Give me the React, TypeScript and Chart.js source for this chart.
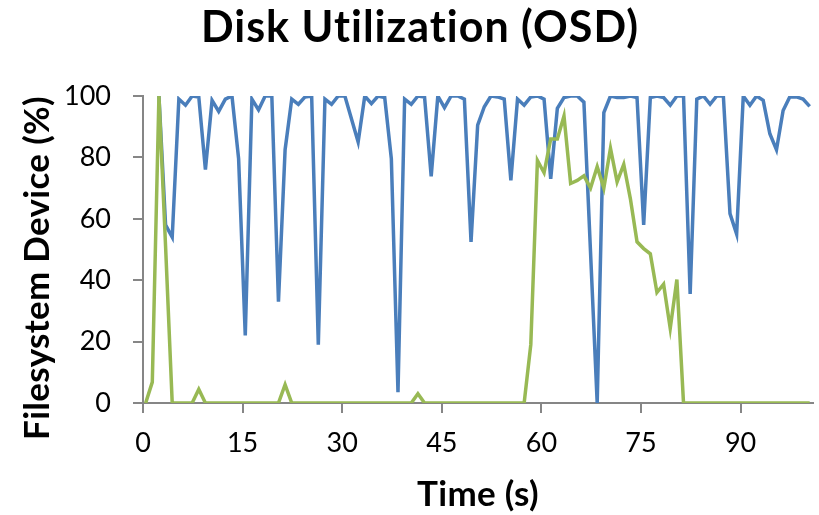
import React, { useEffect, useRef } from "react";
import { Chart, registerables } from "chart.js";

Chart.register(...registerables);

const times = [
  0.4, 1.4, 2.4, 3.4, 4.4, 5.4, 6.4, 7.4, 8.4, 9.4,
  10.4, 11.4, 12.4, 13.4, 14.4, 15.4, 16.4, 17.4, 18.4, 19.4,
  20.4, 21.4, 22.4, 23.4, 24.4, 25.4, 26.4, 27.4, 28.4, 29.4,
  30.4, 31.4, 32.4, 33.4, 34.4, 35.4, 36.4, 37.4, 38.4, 39.4,
  40.4, 41.4, 42.4, 43.4, 44.4, 45.4, 46.4, 47.4, 48.4, 49.4,
  50.4, 51.4, 52.4, 53.4, 54.4, 55.4, 56.4, 57.4, 58.4, 59.4,
  60.4, 61.4, 62.4, 63.4, 64.4, 65.4, 66.4, 67.4, 68.4, 69.4,
  70.4, 71.4, 72.4, 73.4, 74.4, 75.4, 76.4, 77.4, 78.4, 79.4,
  80.4, 81.4, 82.4, 83.4, 84.4, 85.4, 86.4, 87.4, 88.4, 89.4,
  90.4, 91.4, 92.4, 93.4, 94.4, 95.4, 96.4, 97.4, 98.4, 99.4,
  100.4,
];

const diskA: (number | null)[] = [
  null, null, 100, 58, 54, 99, 97, 100, 99.7, 76,
  98.6, 95, 99, 100, 79.5, 22, 99, 95.5, 100, 100,
  33, 82.5, 99, 97.3, 99.7, 100, 19, 99, 97.3, 100,
  100, 92.5, 85, 100, 97.5, 100, 99.5, 79.5, 3.5, 99,
  97.3, 100, 99.7, 73.8, 100, 96.2, 100, 100, 99, 52.5,
  90.5, 96.5, 100, 99.7, 99, 72.5, 99, 97, 99.7, 100,
  99, 73, 96, 99.5, 100, 100, 98, 49, 0, 94.6,
  100, 99.5, 99.5, 100, 99.5, 58, 99.5, 100, 99.5, 97,
  100, 100, 35.5, 99, 100, 97.3, 100, 100, 61.7, 55,
  100, 97, 100, 98.6, 87.7, 82.5, 95.3, 99.7, 99.7, 99,
  96.6,
];

const diskB: number[] = [
  0, 6.8, 100, 51, 0, 0, 0, 0, 4.5, 0,
  0, 0, 0, 0, 0, 0, 0, 0, 0, 0,
  0, 6, 0, 0, 0, 0, 0, 0, 0, 0,
  0, 0, 0, 0, 0, 0, 0, 0, 0, 0,
  0, 3, 0, 0, 0, 0, 0, 0, 0, 0,
  0, 0, 0, 0, 0, 0, 0, 0, 19, 79,
  75, 86, 86, 93.5, 71.5, 72.5, 74, 70, 77, 70,
  83, 72, 77.7, 66.5, 52.5, 50.3, 48.6, 36, 38.7, 24.3,
  40.2, 0, 0, 0, 0, 0, 0, 0, 0, 0,
  0, 0, 0, 0, 0, 0, 0, 0, 0, 0,
  0,
];

const xTicks = [0, 15, 30, 45, 60, 75, 90];
const yTicks = [0, 20, 40, 60, 80, 100];

const TITLE = "Disk Utilization (OSD)";
const X_TITLE = "Time (s)";
const Y_TITLE = "Filesystem Device (%)";

const FONT = "Lato, 'Open Sans', sans-serif";
const AXIS = "#868686";

const titlesPlugin = {
  id: "customTitles",
  afterDraw(chart: any) {
    const ctx = chart.ctx as CanvasRenderingContext2D & { letterSpacing?: string };
    const area = chart.chartArea;
    ctx.save();
    ctx.fillStyle = "#000";
    ctx.textAlign = "center";
    ctx.textBaseline = "alphabetic";
    ctx.font = `bold 43px ${FONT}`;
    ctx.letterSpacing = "1px";
    ctx.fillText(TITLE, 420, 42);
    ctx.letterSpacing = "0.3px";
    ctx.font = `bold 35px ${FONT}`;
    ctx.fillText(X_TITLE, (area.left + area.right) / 2, 506);
    ctx.translate(38, 268);
    ctx.rotate(-Math.PI / 2);
    ctx.textBaseline = "middle";
    ctx.fillText(Y_TITLE, 0, 0);
    ctx.restore();
  },
};

export default function App() {
  const ref = useRef<HTMLCanvasElement | null>(null);

  useEffect(() => {
    document.body.style.margin = "0";
    const canvas = ref.current;
    if (!canvas) return;
    const toPts = (ys: (number | null)[]) =>
      times.map((t, i) => ({ x: t, y: ys[i] }));

    const chart = new Chart(canvas, {
      type: "line",
      data: {
        datasets: [
          {
            label: "A",
            data: toPts(diskA) as any,
            borderColor: "#4a7ebb",
            borderWidth: 3.5,
            pointRadius: 0,
            tension: 0,
            spanGaps: false,
            order: 1,
          },
          {
            label: "B",
            data: toPts(diskB) as any,
            borderColor: "#98b954",
            borderWidth: 3.5,
            pointRadius: 0,
            tension: 0,
            order: 0,
          },
        ],
      },
      plugins: [titlesPlugin],
      options: {
        animation: false,
        responsive: false,
        maintainAspectRatio: false,
        layout: { padding: { left: 8, right: 6, top: 96, bottom: 0 } },
        plugins: {
          legend: { display: false },
          tooltip: { enabled: false },
          title: { display: false },
        },
        scales: {
          x: {
            type: "linear",
            min: 0,
            max: 100.9,
            afterBuildTicks: (scale: any) => {
              scale.ticks = xTicks.map((v) => ({ value: v }));
            },
            afterFit: (scale: any) => {
              scale.height = 112;
            },
            border: { display: true, color: AXIS, width: 2 },
            grid: {
              display: true,
              drawOnChartArea: false,
              drawTicks: true,
              tickLength: 10,
              color: AXIS,
              lineWidth: 2,
            },
            ticks: {
              color: "#000",
              padding: 14,
              maxRotation: 0,
              autoSkip: false,
              font: { family: FONT, size: 27 },
            },
            title: { display: false },
          },
          y: {
            type: "linear",
            min: 0,
            max: 100,
            afterBuildTicks: (scale: any) => {
              scale.ticks = yTicks.map((v) => ({ value: v }));
            },
            afterFit: (scale: any) => {
              scale.width = 135;
            },
            border: { display: true, color: AXIS, width: 2 },
            grid: {
              display: true,
              drawOnChartArea: false,
              drawTicks: true,
              tickLength: 10,
              color: AXIS,
              lineWidth: 2,
            },
            ticks: {
              color: "#000",
              padding: 22,
              font: { family: FONT, size: 27 },
            },
            title: { display: false },
          },
        },
      },
    });
    return () => chart.destroy();
  }, []);

  return (
    <div style={{ width: 819, height: 515, position: "relative" }}>
      <canvas ref={ref} width={819} height={515} style={{ display: "block" }} />
    </div>
  );
}
